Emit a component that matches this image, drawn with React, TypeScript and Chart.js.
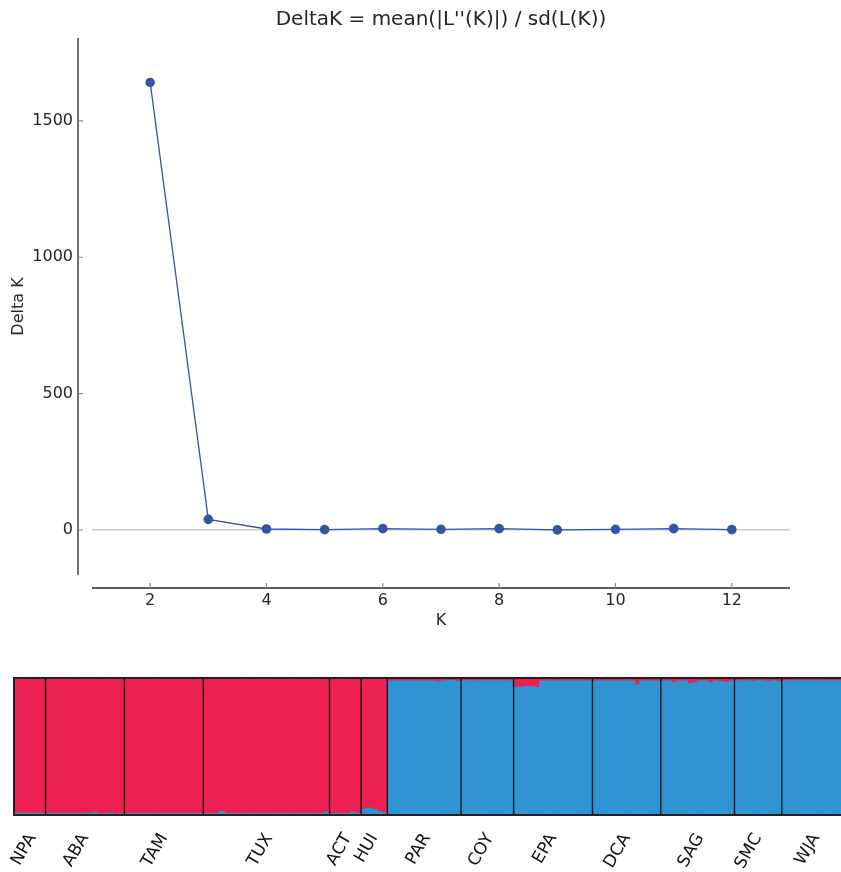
import React, { useEffect, useRef } from 'react';
import { Chart, registerables } from 'chart.js';

Chart.register(...registerables);

// ---------- Top chart data (Evanno DeltaK) ----------
const kValues = [2, 3, 4, 5, 6, 7, 8, 9, 10, 11, 12];
const deltaK = [1641, 39, 3.7, 1.2, 4.9, 2.4, 4.9, 0.3, 2.4, 4.9, 1.2];
const yTickValues = [0, 500, 1000, 1500];
const xTickValues = [2, 4, 6, 8, 10, 12];
const titleText = "DeltaK = mean(|L''(K)|) / sd(L(K))";

// ---------- Bottom chart data (membership to cluster 1 = red) ----------
const popNames = ['NPA', 'ABA', 'TAM', 'TUX', 'ACT', 'HUI', 'PAR', 'COY', 'EPA', 'DCA', 'SAG', 'SMC', 'WJA'];
const NPA_q = [0.988, 0.988, 0.988, 0.988, 0.988, 0.988];
const ABA_q = [0.989, 0.989, 0.99, 0.989, 0.989, 0.99, 0.989, 0.99, 0.988, 0.984, 0.992, 0.99, 0.989, 0.993, 0.989];
const TAM_q = [0.99, 0.99, 0.99, 0.99, 0.99, 0.99, 0.99, 0.99, 0.99, 0.99, 0.99, 0.99, 0.99, 0.99, 0.99];
const TUX_q = [0.99, 0.99, 0.99, 0.976, 0.99, 0.99, 0.99, 0.99, 0.99, 0.99, 0.99, 0.99, 0.99, 0.99, 0.99, 0.99, 0.99, 0.99, 0.99, 0.99, 0.99, 0.99, 0.99, 0.98];
const ACT_q = [0.99, 0.99, 0.99, 0.99, 0.98, 0.99];
const HUI_q = [0.96, 0.95, 0.962, 0.977, 0.987];
const PAR_q = [0.022, 0.022, 0.025, 0.022, 0.022, 0.022, 0.022, 0.022, 0.022, 0.029, 0.022, 0.019, 0.019, 0.027];
const COY_q = [0.02, 0.02, 0.02, 0.02, 0.02, 0.02, 0.02, 0.02, 0.02, 0.02];
const EPA_q = [0.068, 0.068, 0.062, 0.062, 0.07, 0.022, 0.022, 0.022, 0.022, 0.022, 0.022, 0.022, 0.022, 0.022, 0.022];
const DCA_q = [0.022, 0.022, 0.022, 0.022, 0.022, 0.022, 0.022, 0.022, 0.05, 0.022, 0.022, 0.022, 0.022];
const SAG_q = [0.022, 0.022, 0.033, 0.022, 0.022, 0.04, 0.036, 0.022, 0.022, 0.036, 0.022, 0.027, 0.033, 0.022];
const SMC_q = [0.021, 0.021, 0.021, 0.027, 0.021, 0.021, 0.027, 0.021, 0.027];
const WJA_q = [0.02, 0.02, 0.02, 0.02, 0.02, 0.02, 0.02, 0.02, 0.02, 0.02, 0.02, 0.02];
const popMembership = [NPA_q, ABA_q, TAM_q, TUX_q, ACT_q, HUI_q, PAR_q, COY_q, EPA_q, DCA_q, SAG_q, SMC_q, WJA_q];

const LINE_BLUE = '#3a52a4';
const RED = '#ec2151';
const BLUE = '#3094d2';
const TEXT = '#262626';
const FONT = 'DejaVu Sans';

function buildBars() {
  const labels: string[] = [];
  const red: number[] = [];
  const blue: number[] = [];
  const tickLabelAt: Record<number, string> = {};
  const boundaries: number[] = [];
  let idx = 0;
  popMembership.forEach((arr, p) => {
    tickLabelAt[idx + Math.floor(arr.length / 2)] = popNames[p];
    arr.forEach((q, i) => {
      labels.push(popNames[p] + '-' + (i + 1));
      red.push(q);
      blue.push(1 - q);
    });
    idx += arr.length;
    if (p < popMembership.length - 1) boundaries.push(idx);
  });
  return { labels, red, blue, tickLabelAt, boundaries };
}

const spinePlugin = {
  id: 'offsetSpines',
  afterDraw(chart: any) {
    const { ctx, chartArea: ca, scales } = chart;
    const sx = ca.left - 14;
    const sy = ca.bottom + 13;
    ctx.save();
    ctx.strokeStyle = TEXT;
    ctx.lineWidth = 1.3;
    ctx.beginPath();
    ctx.moveTo(sx, ca.top);
    ctx.lineTo(sx, ca.bottom);
    ctx.moveTo(ca.left, sy);
    ctx.lineTo(ca.right, sy);
    ctx.stroke();
    ctx.strokeStyle = '#8a8a8a';
    ctx.lineWidth = 1.2;
    ctx.beginPath();
    yTickValues.forEach((v) => {
      const py = scales.y.getPixelForValue(v);
      ctx.moveTo(sx, py);
      ctx.lineTo(sx + 5, py);
    });
    xTickValues.forEach((v) => {
      const px = scales.x.getPixelForValue(v);
      ctx.moveTo(px, sy);
      ctx.lineTo(px, sy - 5);
    });
    ctx.stroke();
    ctx.restore();
  },
};

function makeFramePlugin(boundaries: number[]) {
  return {
    id: 'structureFrame',
    afterDatasetsDraw(chart: any) {
      const { ctx, chartArea: ca, scales } = chart;
      ctx.save();
      ctx.strokeStyle = 'rgba(10,10,10,0.9)';
      ctx.lineWidth = 1.4;
      ctx.beginPath();
      boundaries.forEach((b) => {
        const x = (scales.x.getPixelForValue(b - 1) + scales.x.getPixelForValue(b)) / 2;
        ctx.moveTo(x, ca.top);
        ctx.lineTo(x, ca.bottom);
      });
      ctx.stroke();
      ctx.strokeStyle = '#222222';
      ctx.lineWidth = 2;
      ctx.strokeRect(ca.left, ca.top, ca.right - ca.left, ca.bottom - ca.top);
      ctx.restore();
    },
  };
}

export default function App() {
  const topRef = useRef<HTMLCanvasElement>(null);
  const botRef = useRef<HTMLCanvasElement>(null);

  useEffect(() => {
    const tickFont = { family: FONT, size: 16 };
    const top = new Chart(topRef.current as HTMLCanvasElement, {
      type: 'line',
      data: {
        datasets: [
          {
            data: kValues.map((k, i) => ({ x: k, y: deltaK[i] })),
            borderColor: LINE_BLUE,
            backgroundColor: LINE_BLUE,
            pointBackgroundColor: LINE_BLUE,
            pointBorderWidth: 0,
            pointRadius: 4.8,
            borderWidth: 1.3,
          },
        ],
      },
      options: {
        responsive: false,
        animation: false,
        layout: { padding: { left: 0, right: 51, top: 0, bottom: 0 } },
        plugins: {
          legend: { display: false },
          tooltip: { enabled: false },
          title: {
            display: true,
            text: titleText,
            color: TEXT,
            fullSize: false,
            font: { family: FONT, size: 20, weight: 'normal' },
            padding: { top: 8, bottom: 6 },
          },
        },
        scales: {
          x: {
            type: 'linear',
            min: 1,
            max: 13,
            afterBuildTicks: (s: any) => {
              s.ticks = xTickValues.map((v) => ({ value: v }));
            },
            afterFit: (s: any) => {
              s.height = 65;
            },
            grid: { display: false, drawTicks: false },
            border: { display: false },
            ticks: { color: TEXT, font: tickFont, padding: 16, maxRotation: 0, callback: (v: any) => String(v) },
            title: { display: true, text: 'K', color: TEXT, font: tickFont, padding: { top: 0, bottom: 10 } },
          },
          y: {
            type: 'linear',
            min: -165,
            max: 1804,
            afterBuildTicks: (s: any) => {
              s.ticks = yTickValues.map((v) => ({ value: v }));
            },
            afterFit: (s: any) => {
              s.width = 92;
            },
            grid: {
              drawTicks: false,
              lineWidth: 1.6,
              color: (c: any) => (c.tick && c.tick.value === 0 ? '#cccccc' : 'rgba(0,0,0,0)'),
            },
            border: { display: false },
            ticks: { color: TEXT, font: tickFont, padding: 19, callback: (v: any) => String(v) },
            title: { display: true, text: 'Delta K', color: TEXT, font: tickFont, padding: { top: 9.4, bottom: 0 } },
          },
        },
      } as any,
      plugins: [spinePlugin],
    });

    const { labels, red, blue, tickLabelAt, boundaries } = buildBars();
    const barCommon = { borderWidth: 0, barPercentage: 1, categoryPercentage: 1, inflateAmount: 0.6, stack: 's' };
    const bot = new Chart(botRef.current as HTMLCanvasElement, {
      type: 'bar',
      data: {
        labels,
        datasets: [
          { label: 'Cluster 2', data: blue, backgroundColor: BLUE, ...barCommon },
          { label: 'Cluster 1', data: red, backgroundColor: RED, ...barCommon },
        ],
      },
      options: {
        responsive: false,
        animation: false,
        layout: { padding: { left: 14, right: 15, top: 38, bottom: 0 } },
        plugins: { legend: { display: false }, tooltip: { enabled: false } },
        scales: {
          x: {
            stacked: true,
            grid: { display: false, drawTicks: false },
            border: { display: false },
            afterFit: (s: any) => {
              s.height = 75;
            },
            ticks: {
              autoSkip: false,
              minRotation: 60,
              maxRotation: 60,
              padding: 15,
              color: '#111111',
              font: { family: FONT, size: 17 },
              callback: (_v: any, i: number) => tickLabelAt[i] ?? '',
            },
          },
          y: { stacked: true, display: false, min: 0, max: 1 },
        },
      } as any,
      plugins: [makeFramePlugin(boundaries)],
    });

    return () => {
      top.destroy();
      bot.destroy();
    };
  }, []);

  return (
    <div style={{ position: 'fixed', left: 0, top: 0, width: 841, height: 872, overflow: 'hidden', background: '#ffffff' }}>
      <canvas ref={topRef} width={841} height={640} style={{ position: 'absolute', left: 0, top: 0, display: 'block' }} />
      <canvas ref={botRef} width={875} height={250} style={{ position: 'absolute', left: 0, top: 640, display: 'block' }} />
    </div>
  );
}
